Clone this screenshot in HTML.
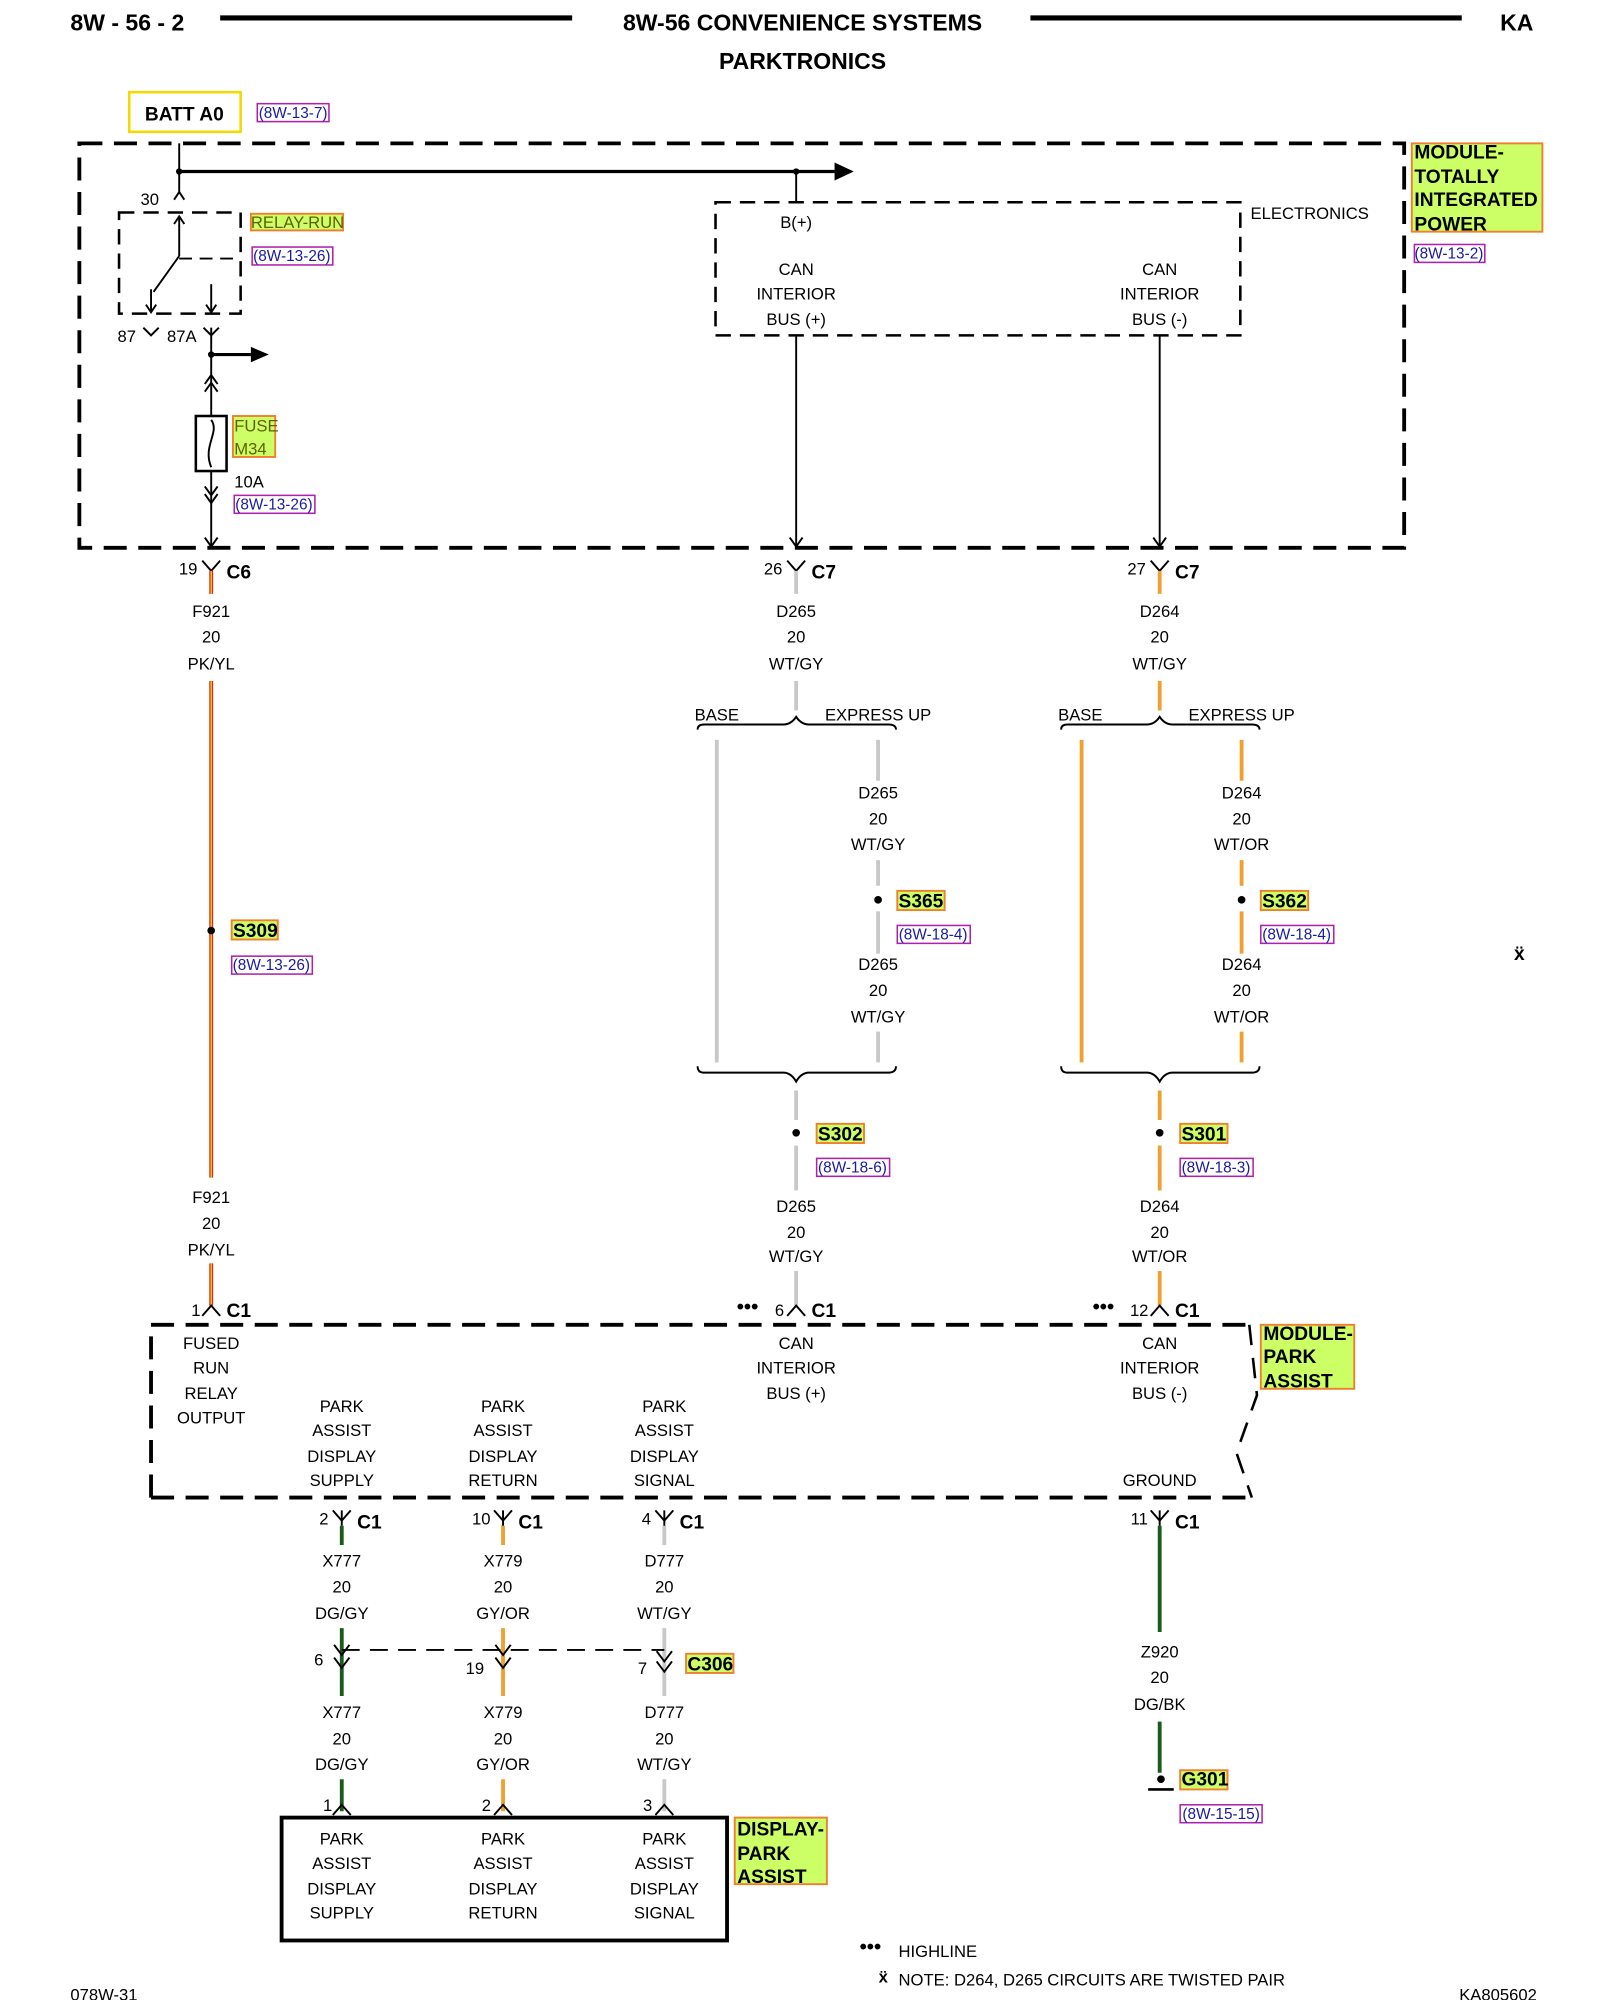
<!DOCTYPE html>
<html><head><meta charset="utf-8"><style>
html,body{margin:0;padding:0;background:#fff}
svg{display:block}
text{font-family:"Liberation Sans",Arial,sans-serif;font-size:13px;fill:#000}
.c{text-anchor:middle}
.b{font-weight:bold}
.h{font-weight:bold;font-size:18px}
.ref{fill:#1a1aa0;font-size:12px}
.lab{font-weight:bold;font-size:15px}
.dots{font-weight:bold;font-size:16px}
</style></head><body>
<svg width="1600" height="2000" viewBox="0 0 1250 1562.5" xmlns="http://www.w3.org/2000/svg">
<g fill="none" stroke="#000">
<line x1="172" y1="14" x2="447" y2="14" stroke-width="4"/>
<line x1="805" y1="14" x2="1142" y2="14" stroke-width="4"/>
<rect x="101" y="72" width="87" height="31" stroke="#f5d800" stroke-width="2"/>
<rect x="62" y="112" width="1035" height="316" stroke-width="3" stroke-dasharray="18,9"/>
<rect x="559" y="158" width="410" height="104" stroke-width="2" stroke-dasharray="12,7"/>
<rect x="93" y="166" width="95" height="79" stroke-width="2" stroke-dasharray="12,7"/>
<line x1="140" y1="112" x2="140" y2="150" stroke-width="1.5"/>
<line x1="140" y1="134" x2="652" y2="134" stroke-width="2.5"/>
<line x1="622" y1="134" x2="622" y2="158" stroke-width="1.5"/>
<path d="M136 156 L140 150 L144 156" stroke-width="1.5"/>
<line x1="140" y1="170" x2="140" y2="200" stroke-width="1.5"/>
<path d="M136 175 L140 169 L144 175" stroke-width="1.5"/>
<line x1="140" y1="200" x2="120" y2="228" stroke-width="1.5"/>
<line x1="140" y1="202" x2="188" y2="202" stroke-width="1.5" stroke-dasharray="10,6"/>
<line x1="118" y1="226" x2="118" y2="244" stroke-width="1.5"/>
<line x1="165" y1="222" x2="165" y2="244" stroke-width="1.5"/>
<path d="M114 238 L118 244 L122 238 M161 238 L165 244 L169 238" stroke-width="1.5"/>
<path d="M112 256 L118 262 L124 256 M159 256 L165 262 L171 256 M165 262 L165 256" stroke-width="1.5"/>
<line x1="165" y1="262" x2="165" y2="428" stroke-width="1.5"/>
<line x1="165" y1="277" x2="196" y2="277" stroke-width="2.5"/>
<path d="M160 300 L165 293 L170 300 M160 306 L165 299 L170 306" stroke-width="1.5"/>
<rect x="153" y="325" width="24" height="43" fill="#fff" stroke-width="2"/>
<path d="M165 328 C172 338 158 348 165 365" stroke-width="1.5"/>
<path d="M160 380 L165 387 L170 380 M160 386 L165 393 L170 386" stroke-width="1.5"/>
<path d="M160 420 L165 427 L170 420" stroke-width="1.5"/>
<line x1="622" y1="262" x2="622" y2="428" stroke-width="1.5"/>
<line x1="906" y1="262" x2="906" y2="428" stroke-width="1.5"/>
<path d="M617 420 L622 427 L627 420 M901 420 L906 427 L911 420" stroke-width="1.5"/>
<path d="M158 438 L165 446 L172 438 M615 438 L622 446 L629 438 M899 438 L906 446 L913 438" stroke-width="1.5"/>
</g>
<polygon points="652,127 667,134 652,141" fill="#000"/>
<polygon points="196,271 210,277 196,283" fill="#000"/>
<circle cx="140" cy="134" r="2.5"/><circle cx="622" cy="134" r="2.5"/><circle cx="165" cy="277" r="2.5"/>

<g stroke-width="3" fill="none">
<path d="M165 446 V464 M165 532 V920 M165 987 V1020" stroke="#e02020"/>
<path d="M165 446 V464 M165 532 V920 M165 987 V1020" stroke="#f5e000" stroke-width="1"/>
<path d="M622 446 V464 M622 532 V555 M560 578 V830 M686 578 V610 M686 672 V692 M686 712 V745 M686 806 V830 M622 852 V875 M622 895 V930 M622 993 V1020" stroke="#c8c8c8"/>
<path d="M906 446 V464 M906 532 V555 M845 578 V830 M970 578 V610 M970 672 V692 M970 712 V745 M970 806 V830 M906 852 V875 M906 895 V930 M906 993 V1020" stroke="#f0a030"/>
<path d="M267 1192 V1207 M267 1272 V1325 M267 1390 V1415 M906 1192 V1275 M906 1345 V1385" stroke="#1a5a1a"/>
<path d="M393 1192 V1207 M393 1272 V1325 M393 1390 V1415" stroke="#f0a030"/>
<path d="M519 1192 V1207 M519 1272 V1325 M519 1390 V1415" stroke="#c8c8c8"/>
</g>
<g fill="none" stroke="#000" stroke-width="1.5">
<path d="M545 570 Q545 566 550 566 L612 566 Q618 566 622 560 Q626 566 632 566 L694 566 Q700 566 700 570"/>
<path d="M545 833 Q545 838 550 838 L612 838 Q618 838 622 845 Q626 838 632 838 L694 838 Q700 838 700 833"/>
<path d="M829 570 Q829 566 834 566 L896 566 Q902 566 906 560 Q910 566 916 566 L978 566 Q984 566 984 570"/>
<path d="M829 833 Q829 838 834 838 L896 838 Q902 838 906 845 Q910 838 916 838 L978 838 Q984 838 984 833"/>
<path d="M158 1028 L165 1020 L172 1028 M615 1028 L622 1020 L629 1028 M899 1028 L906 1020 L913 1028"/>
<path d="M118 1170 V1035 H976 M118 1170 H978" stroke-width="3" stroke-dasharray="18,9"/>
<path d="M976 1035 L982 1090 L966 1135 L978 1170" stroke-width="2" stroke-dasharray="16,10"/>
<path d="M260 1180 L267 1188 L274 1180 M386 1180 L393 1188 L400 1180 M512 1180 L519 1188 L526 1180 M899 1180 L906 1188 L913 1180"/>
<path d="M267 1180 V1192 M393 1180 V1192 M519 1180 V1192 M906 1180 V1192"/>
<line x1="267" y1="1289" x2="519" y2="1289" stroke-dasharray="14,8"/>
<path d="M261 1285 L267 1293 L273 1285 M261 1295 L267 1303 L273 1295 M387 1285 L393 1293 L399 1285 M387 1295 L393 1303 L399 1295 M513 1290 L519 1298 L525 1290 M513 1298 L519 1306 L525 1298"/>
<path d="M260 1418 L267 1410 L274 1418 M386 1418 L393 1410 L400 1418 M512 1418 L519 1410 L526 1418"/>
<rect x="220" y="1420" width="348" height="96" stroke-width="3"/>
<line x1="897" y1="1398" x2="917" y2="1398" stroke-width="2"/>
</g>
<circle cx="165" cy="727" r="3"/><circle cx="686" cy="703" r="3"/><circle cx="970" cy="703" r="3"/>
<circle cx="622" cy="885" r="3"/><circle cx="906" cy="885" r="3"/><circle cx="907" cy="1390" r="3"/>

<g stroke="#f08030" stroke-width="1.5" fill="#ccff66">
<rect x="1103" y="112" width="102" height="69"/>
<rect x="182" y="325" width="33" height="32"/>
<rect x="181" y="719" width="36" height="15"/>
<rect x="701" y="696" width="37" height="15"/>
<rect x="985" y="696" width="37" height="15"/>
<rect x="638" y="878" width="37" height="15"/>
<rect x="922" y="878" width="37" height="15"/>
<rect x="985" y="1035" width="73" height="50"/>
<rect x="536" y="1292" width="37" height="15"/>
<rect x="574" y="1420" width="72" height="52"/>
<rect x="922" y="1383" width="37" height="15"/>
<rect x="196" y="167" width="72" height="13"/>
</g>
<g stroke="#b020b0" stroke-width="1.2" fill="#fff">
<rect x="201" y="81" width="56" height="14"/><rect x="197" y="193" width="63" height="14"/>
<rect x="183" y="387" width="63" height="14"/><rect x="1105" y="191" width="55" height="14"/>
<rect x="181" y="747" width="63" height="14"/><rect x="701" y="723" width="57" height="14"/>
<rect x="985" y="723" width="57" height="14"/><rect x="638" y="905" width="57" height="14"/>
<rect x="922" y="905" width="57" height="14"/><rect x="922" y="1410" width="64" height="14"/>
</g>

<text x="55" y="24" class="h">8W - 56 - 2</text>
<text x="627" y="24" class="h c">8W-56 CONVENIENCE SYSTEMS</text>
<text x="1185" y="24" class="h c">KA</text>
<text x="627" y="54" class="h c">PARKTRONICS</text>
<text x="144" y="94" class="lab c">BATT A0</text>
<text x="229" y="92" class="ref c">(8W-13-7)</text>
<text x="1105" y="124" class="lab">MODULE-</text><text x="1105" y="143" class="lab">TOTALLY</text>
<text x="1105" y="161" class="lab">INTEGRATED</text><text x="1105" y="180" class="lab">POWER</text>
<text x="1132" y="202" class="ref c">(8W-13-2)</text>
<text x="117" y="160" class="c" font-size="12">30</text>
<text x="196" y="178" font-size="12" style="fill:#606000">RELAY-RUN</text>
<text x="228" y="204" class="ref c">(8W-13-26)</text>
<text x="99" y="267" class="c" font-size="12">87</text><text x="142" y="267" class="c" font-size="12">87A</text>
<text x="183" y="337" font-size="12" style="fill:#606000">FUSE</text><text x="183" y="355" font-size="12" style="fill:#606000">M34</text>
<text x="183" y="381">10A</text>
<text x="214" y="398" class="ref c">(8W-13-26)</text>
<text x="977" y="171">ELECTRONICS</text>
<text x="622" y="178" class="c">B(+)</text>
<text x="622" y="215" class="c">CAN</text><text x="622" y="234" class="c">INTERIOR</text><text x="622" y="254" class="c">BUS (+)</text>
<text x="906" y="215" class="c">CAN</text><text x="906" y="234" class="c">INTERIOR</text><text x="906" y="254" class="c">BUS (-)</text>
<text x="147" y="449" class="c" font-size="12">19</text><text x="177" y="452" class="lab">C6</text>
<text x="604" y="449" class="c" font-size="12">26</text><text x="634" y="452" class="lab">C7</text>
<text x="888" y="449" class="c" font-size="12">27</text><text x="918" y="452" class="lab">C7</text>
<g>
<text x="165" y="482" class="c">F921</text><text x="165" y="502" class="c">20</text><text x="165" y="523" class="c">PK/YL</text>
<text x="622" y="482" class="c">D265</text><text x="622" y="502" class="c">20</text><text x="622" y="523" class="c">WT/GY</text>
<text x="906" y="482" class="c">D264</text><text x="906" y="502" class="c">20</text><text x="906" y="523" class="c">WT/GY</text>
<text x="560" y="563" class="c">BASE</text><text x="686" y="563" class="c">EXPRESS UP</text>
<text x="844" y="563" class="c">BASE</text><text x="970" y="563" class="c">EXPRESS UP</text>
<text x="686" y="624" class="c">D265</text><text x="686" y="644" class="c">20</text><text x="686" y="664" class="c">WT/GY</text>
<text x="686" y="758" class="c">D265</text><text x="686" y="778" class="c">20</text><text x="686" y="799" class="c">WT/GY</text>
<text x="970" y="624" class="c">D264</text><text x="970" y="644" class="c">20</text><text x="970" y="664" class="c">WT/OR</text>
<text x="970" y="758" class="c">D264</text><text x="970" y="778" class="c">20</text><text x="970" y="799" class="c">WT/OR</text>
<text x="165" y="940" class="c">F921</text><text x="165" y="960" class="c">20</text><text x="165" y="981" class="c">PK/YL</text>
<text x="622" y="947" class="c">D265</text><text x="622" y="967" class="c">20</text><text x="622" y="986" class="c">WT/GY</text>
<text x="906" y="947" class="c">D264</text><text x="906" y="967" class="c">20</text><text x="906" y="986" class="c">WT/OR</text>
</g>
<text x="182" y="732" class="lab" font-size="13">S309</text><text x="212" y="758" class="ref c">(8W-13-26)</text>
<text x="702" y="709" class="lab" font-size="13">S365</text><text x="729" y="734" class="ref c">(8W-18-4)</text>
<text x="986" y="709" class="lab" font-size="13">S362</text><text x="1013" y="734" class="ref c">(8W-18-4)</text>
<text x="639" y="891" class="lab" font-size="13">S302</text><text x="666" y="916" class="ref c">(8W-18-6)</text>
<text x="923" y="891" class="lab" font-size="13">S301</text><text x="950" y="916" class="ref c">(8W-18-3)</text>
<text x="1187" y="750" class="c lab">ẍ</text>
<text x="153" y="1028" class="c" font-size="12">1</text><text x="177" y="1029" class="lab">C1</text>
<text x="584" y="1026" class="c dots">•••</text><text x="609" y="1028" class="c" font-size="12">6</text><text x="634" y="1029" class="lab">C1</text>
<text x="862" y="1026" class="c dots">•••</text><text x="890" y="1028" class="c" font-size="12">12</text><text x="918" y="1029" class="lab">C1</text>
<text x="987" y="1047" class="lab">MODULE-</text><text x="987" y="1065" class="lab">PARK</text><text x="987" y="1084" class="lab">ASSIST</text>
<g>
<text x="165" y="1054" class="c">FUSED</text><text x="165" y="1073" class="c">RUN</text><text x="165" y="1093" class="c">RELAY</text><text x="165" y="1112" class="c">OUTPUT</text>
<text x="622" y="1054" class="c">CAN</text><text x="622" y="1073" class="c">INTERIOR</text><text x="622" y="1093" class="c">BUS (+)</text>
<text x="906" y="1054" class="c">CAN</text><text x="906" y="1073" class="c">INTERIOR</text><text x="906" y="1093" class="c">BUS (-)</text>
<text x="267" y="1103" class="c">PARK</text><text x="267" y="1122" class="c">ASSIST</text><text x="267" y="1142" class="c">DISPLAY</text><text x="267" y="1161" class="c">SUPPLY</text>
<text x="393" y="1103" class="c">PARK</text><text x="393" y="1122" class="c">ASSIST</text><text x="393" y="1142" class="c">DISPLAY</text><text x="393" y="1161" class="c">RETURN</text>
<text x="519" y="1103" class="c">PARK</text><text x="519" y="1122" class="c">ASSIST</text><text x="519" y="1142" class="c">DISPLAY</text><text x="519" y="1161" class="c">SIGNAL</text>
<text x="906" y="1161" class="c">GROUND</text>
<text x="253" y="1191" class="c" font-size="12">2</text><text x="279" y="1194" class="lab">C1</text>
<text x="376" y="1191" class="c" font-size="12">10</text><text x="405" y="1194" class="lab">C1</text>
<text x="505" y="1191" class="c" font-size="12">4</text><text x="531" y="1194" class="lab">C1</text>
<text x="890" y="1191" class="c" font-size="12">11</text><text x="918" y="1194" class="lab">C1</text>
<text x="267" y="1224" class="c">X777</text><text x="267" y="1244" class="c">20</text><text x="267" y="1265" class="c">DG/GY</text>
<text x="393" y="1224" class="c">X779</text><text x="393" y="1244" class="c">20</text><text x="393" y="1265" class="c">GY/OR</text>
<text x="519" y="1224" class="c">D777</text><text x="519" y="1244" class="c">20</text><text x="519" y="1265" class="c">WT/GY</text>
<text x="249" y="1301" class="c" font-size="12">6</text><text x="371" y="1308" class="c" font-size="12">19</text><text x="502" y="1308" class="c" font-size="12">7</text>
<text x="537" y="1305" class="lab" font-size="13">C306</text>
<text x="267" y="1342" class="c">X777</text><text x="267" y="1363" class="c">20</text><text x="267" y="1383" class="c">DG/GY</text>
<text x="393" y="1342" class="c">X779</text><text x="393" y="1363" class="c">20</text><text x="393" y="1383" class="c">GY/OR</text>
<text x="519" y="1342" class="c">D777</text><text x="519" y="1363" class="c">20</text><text x="519" y="1383" class="c">WT/GY</text>
<text x="906" y="1295" class="c">Z920</text><text x="906" y="1315" class="c">20</text><text x="906" y="1336" class="c">DG/BK</text>
<text x="923" y="1395" class="lab" font-size="13">G301</text><text x="954" y="1421" class="ref c">(8W-15-15)</text>
<text x="256" y="1415" class="c" font-size="12">1</text><text x="380" y="1415" class="c" font-size="12">2</text><text x="506" y="1415" class="c" font-size="12">3</text>
<text x="267" y="1441" class="c">PARK</text><text x="267" y="1460" class="c">ASSIST</text><text x="267" y="1480" class="c">DISPLAY</text><text x="267" y="1499" class="c">SUPPLY</text>
<text x="393" y="1441" class="c">PARK</text><text x="393" y="1460" class="c">ASSIST</text><text x="393" y="1480" class="c">DISPLAY</text><text x="393" y="1499" class="c">RETURN</text>
<text x="519" y="1441" class="c">PARK</text><text x="519" y="1460" class="c">ASSIST</text><text x="519" y="1480" class="c">DISPLAY</text><text x="519" y="1499" class="c">SIGNAL</text>
</g>
<text x="576" y="1434" class="lab">DISPLAY-</text><text x="576" y="1453" class="lab">PARK</text><text x="576" y="1471" class="lab">ASSIST</text>
<text x="680" y="1526" class="c dots">•••</text><text x="702" y="1529">HIGHLINE</text>
<text x="690" y="1549" class="c b">ẍ</text><text x="702" y="1551">NOTE:   D264, D265   CIRCUITS ARE TWISTED PAIR</text>
<text x="55" y="1563" font-size="12">078W-31</text>
<text x="1140" y="1563" font-size="12">KA805602</text>
</svg>
</body></html>
